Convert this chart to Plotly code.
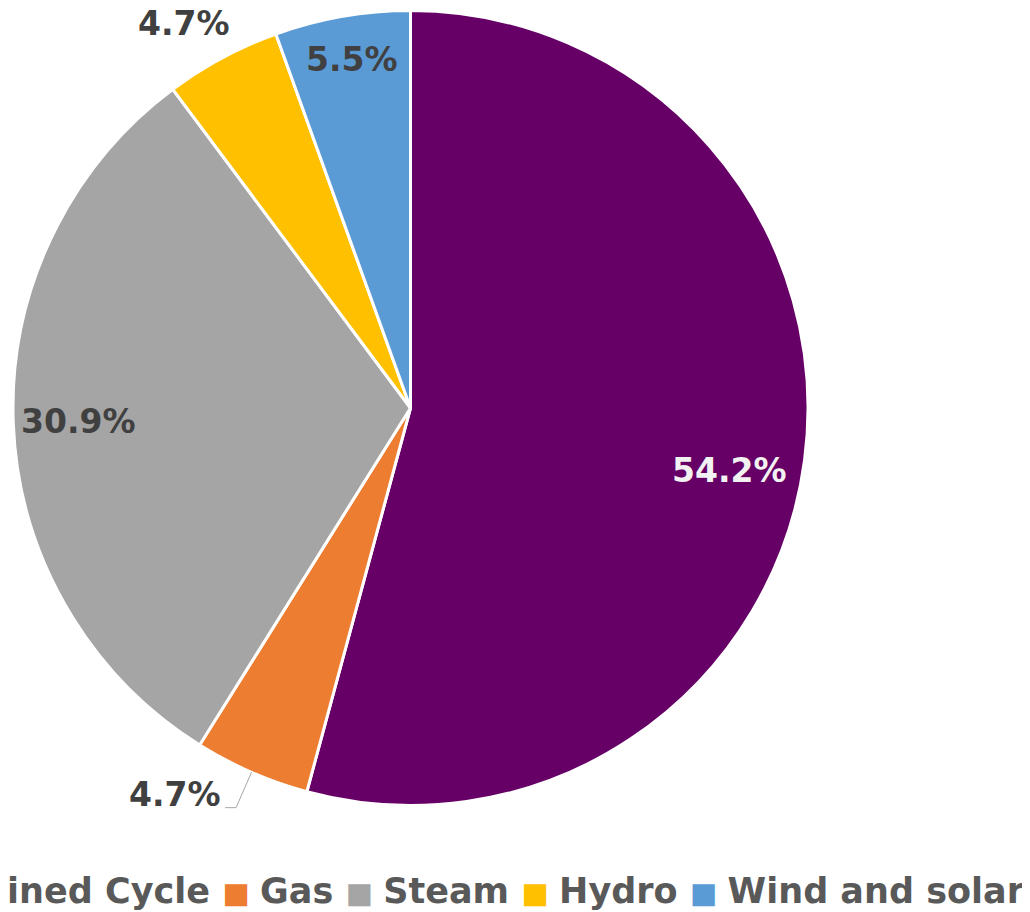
import math
import plotly.graph_objects as go

# ---- data ----
categories = ["Combined Cycle", "Gas", "Steam", "Hydro", "Wind and solar"]
shares = [54.2, 4.7, 30.9, 4.7, 5.5]
colors = ["#660066", "#ED7D31", "#A5A5A5", "#FFC000", "#5B9BD5"]

# ---- label styling (radial factor, angular nudge in degrees, colour) ----
label_radius = [0.817, 1.138, 0.836, 1.1216, 0.888]
label_shift = [3.5, 7.8, 0.0, -2.2, 0.3]
label_colors = ["#F2F2F2", "#404040", "#404040", "#404040", "#404040"]
leader_for = [False, True, False, False, False]

# page has an 8px body margin; the figure is sized to fit inside the window
OFF = 8
W, H = 1030 - OFF, 912 - OFF
CX, CY, R = 410.5, 408.0, 397.5   # page pixel coordinates
FONT = "DejaVu Sans"


def px(x, y):
    """page pixel -> paper fraction"""
    return (x - OFF) / W, 1 - (y - OFF) / H


fig = go.Figure()
d0 = px(CX - R, CY + R)
d1 = px(CX + R, CY - R)
fig.add_trace(go.Pie(
    labels=categories,
    values=shares,
    sort=False,
    direction="clockwise",
    rotation=0,
    marker=dict(colors=colors, line=dict(color="white", width=3)),
    textinfo="none",
    hovertemplate="%{label}: %{value:.1f}%<extra></extra>",
    showlegend=False,
    domain=dict(x=[d0[0], d1[0]], y=[d0[1], d1[1]]),
))

total = sum(shares)
annotations = []
shapes = []
cum = 0.0
for i, v in enumerate(shares):
    mid = (cum + v / 2) / total * 360.0
    cum += v
    ang = math.radians(mid + label_shift[i])
    lx = CX + R * label_radius[i] * math.sin(ang)
    ly = CY - R * label_radius[i] * math.cos(ang)
    ax, ay = px(lx, ly)
    annotations.append(dict(
        x=ax, y=ay, xref="paper", yref="paper", showarrow=False,
        xanchor="center", yanchor="middle",
        text=f"{v:.1f}%",
        font=dict(family=FONT, size=33, color=label_colors[i], weight="bold"),
    ))
    if leader_for[i]:
        m = math.radians(mid)
        x1, y1 = CX + R * math.sin(m), CY - R * math.cos(m)
        x2, y2 = CX + R * 1.097 * math.sin(m), CY - R * 1.097 * math.cos(m)
        x3, y3 = x2 - 11, y2
        p1, p2, p3 = px(x1, y1), px(x2, y2), px(x3, y3)
        shapes.append(dict(
            type="path", xref="paper", yref="paper",
            path=f"M {p1[0]},{p1[1]} L {p2[0]},{p2[1]} L {p3[0]},{p3[1]}",
            line=dict(color="#A6A6A6", width=1),
        ))

# legend built as a single text row (clipped on the left like the original)
items = []
for c, col in zip(categories, colors):
    items.append(
        f'<span style="color:{col};font-size:29px">\u25A0</span>'
        f'<span style="font-size:30px">\u00a0</span>{c}'
    )
legend_text = "\u00a0".join(items)
lgx, lgy = px(1027, 891)
annotations.append(dict(
    x=lgx, y=lgy, xref="paper", yref="paper", showarrow=False,
    xanchor="right", yanchor="middle", text=legend_text,
    font=dict(family=FONT, size=35, color="#595959", weight="bold"),
))

fig.update_layout(
    width=W, height=H,
    margin=dict(l=0, r=0, t=0, b=0),
    paper_bgcolor="white",
    plot_bgcolor="white",
    annotations=annotations,
    shapes=shapes,
    font=dict(family=FONT),
)

fig.write_html("out.html")
